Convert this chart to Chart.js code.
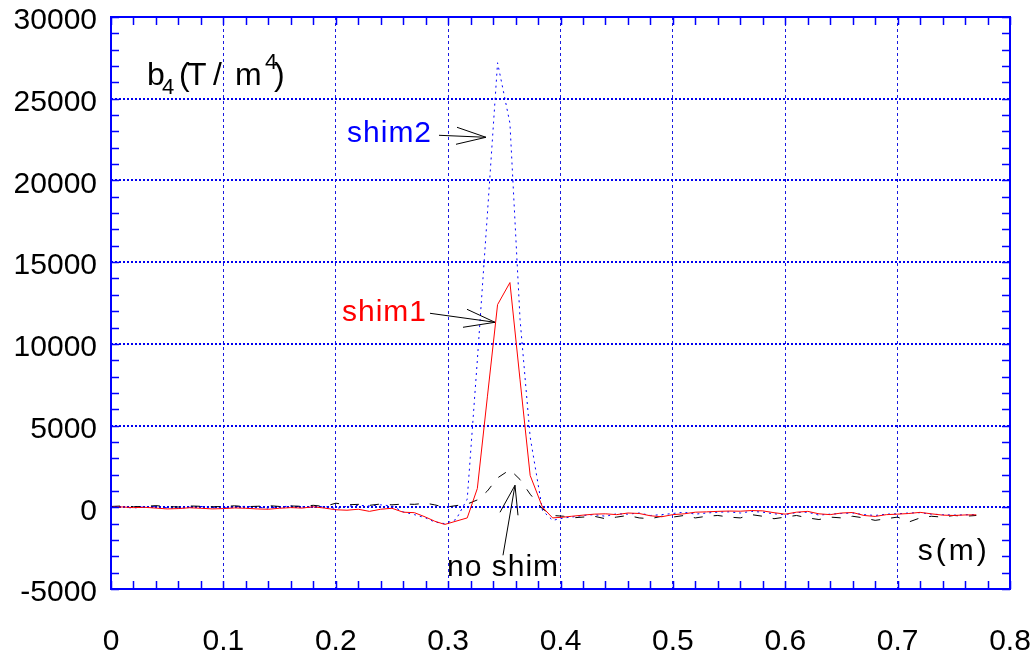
<!DOCTYPE html>
<html>
<head>
<meta charset="utf-8">
<script src="https://cdn.jsdelivr.net/npm/chart.js@4.4.0/dist/chart.umd.min.js"></script>
<style>
  html, body { margin: 0; background: #fff; }
  #wrap { width: 1036px; height: 655px; }
</style>
</head>
<body>
<div id="wrap"><canvas id="c" width="1036" height="655"></canvas></div>
<script>
// s positions (m)
const sPos = [
  0, 0.01, 0.02, 0.03, 0.04, 0.05, 0.06, 0.07, 0.08, 0.09,
  0.10, 0.11, 0.12, 0.13, 0.14, 0.15, 0.16, 0.17, 0.18, 0.19,
  0.20, 0.21, 0.22, 0.23, 0.24, 0.25, 0.26, 0.27, 0.28,
  0.288, 0.297, 0.307, 0.317, 0.326, 0.335, 0.344, 0.355, 0.364, 0.373, 0.384, 0.393, 0.403,
  0.41, 0.42, 0.43, 0.44, 0.45, 0.46, 0.47, 0.48, 0.49, 0.50,
  0.51, 0.52, 0.53, 0.54, 0.55, 0.56, 0.57, 0.58, 0.59, 0.60,
  0.61, 0.62, 0.63, 0.64, 0.65, 0.66, 0.67, 0.68, 0.69, 0.70,
  0.71, 0.72, 0.73, 0.74, 0.75, 0.76, 0.77
];

// b4 (T/m^4)
const shim1 = [
  0, 20, -20, 0, -50, -100, -80, -30, -60, -100,
  -80, -40, -60, -100, -120, -60, -20, -50, 30, -50,
  -150, -180, -120, -250, -120, -60, -300, -330, -600,
  -850, -1050, -850, -650, 1150, 6800, 12400, 13750, 7800, 1950, 0, -650, -600,
  -550, -480, -420, -400, -450, -350, -380, -520, -580, -450,
  -400, -300, -280, -250, -230, -240, -200, -220, -330, -420,
  -300, -250, -400, -450, -350, -320, -500, -560, -450, -420,
  -380, -310, -400, -480, -500, -470, -460
];
const shim2 = [
  30, 0, -40, 20, 40, -30, -60, 0, 50, -20,
  -40, 30, 60, 0, -50, 20, 80, 30, -20, 50,
  -80, 60, 120, 80, 150, 80, -280, -450, -650,
  -900, -1000, -750, 500, 9000, 18000, 27200, 23500, 11500, 4300, -200, -800, -650,
  -600, -500, -450, -550, -400, -420, -350, -500, -450, -380,
  -300, -420, -350, -300, -280, -350, -250, -300, -400, -450,
  -320, -300, -480, -420, -380, -350, -450, -500, -420, -400,
  -350, -330, -420, -450, -480, -460, -450
];
const noShim = [
  50, 80, 30, 60, 100, 40, 20, 80, 60, 30,
  50, 90, 40, 60, 100, 50, 80, 60, 120, 50,
  250, 150, 180, 120, 200, 150, 200, 180, 250,
  150, 0, 100, 200, 450, 1000, 1800, 2300, 1700, 800, -100, -500, -550,
  -650, -600, -550, -700, -600, -500, -650, -700, -550, -600,
  -500, -650, -550, -500, -600, -650, -450, -550, -700, -600,
  -500, -650, -750, -600, -650, -550, -650, -800, -700, -600,
  -900, -650, -550, -600, -500, -550, -500
];

const xTicks = [0, 0.1, 0.2, 0.3, 0.4, 0.5, 0.6, 0.7, 0.8];
const yTicks = [-5000, 0, 5000, 10000, 15000, 20000, 25000, 30000];

const FONT = '"Liberation Sans", Arial, sans-serif';
Chart.defaults.font.family = FONT;
Chart.defaults.font.size = 30;
Chart.defaults.color = '#000';

const pts = arr => sPos.map((s, i) => ({ x: s, y: arr[i] }));

function arrow(ctx, tx, ty, tail, h1, h2) {
  ctx.beginPath();
  ctx.moveTo(tx + tail[0], ty + tail[1]);
  ctx.lineTo(tx, ty);
  ctx.moveTo(tx + h1[0], ty + h1[1]);
  ctx.lineTo(tx, ty);
  ctx.lineTo(tx + h2[0], ty + h2[1]);
  ctx.stroke();
}

const decor = {
  id: 'decor',
  afterDraw(chart) {
    const { ctx, chartArea: a, scales: { x, y } } = chart;
    ctx.save();
    // frame + minor ticks
    ctx.strokeStyle = '#0000ff';
    ctx.lineWidth = 2;
    ctx.strokeRect(a.left, a.top, a.right - a.left, a.bottom - a.top);
    ctx.lineWidth = 1.5;
    ctx.beginPath();
    for (let v = -5000; v <= 30000; v += 1000) {
      const py = Math.round(y.getPixelForValue(v)) + 0.5;
      ctx.moveTo(a.left, py); ctx.lineTo(a.left + 8, py);
      ctx.moveTo(a.right, py); ctx.lineTo(a.right - 8, py);
    }
    for (let i = 0; i <= 40; i++) {
      const px = Math.round(x.getPixelForValue(i * 0.02)) + 0.5;
      ctx.moveTo(px, a.bottom); ctx.lineTo(px, a.bottom - 8);
      ctx.moveTo(px, a.top); ctx.lineTo(px, a.top + 8);
    }
    ctx.stroke();

    // axis captions
    ctx.fillStyle = '#000';
    ctx.textBaseline = 'alphabetic';
    ctx.textAlign = 'left';
    const big = '32px ' + FONT, small = '22px ' + FONT;
    const L = a.left, T = a.top;
    ctx.font = big;   ctx.fillText('b', L + 36, T + 68);
    ctx.font = small; ctx.fillText('4', L + 51, T + 77);
    ctx.font = big;   ctx.fillText('(', L + 68, T + 68);
    ctx.fillText('T', L + 76, T + 68);
    ctx.fillText('/', L + 102, T + 68);
    ctx.fillText('m', L + 124, T + 68);
    ctx.font = small; ctx.fillText('4', L + 154, T + 52);
    ctx.font = big;   ctx.fillText(')', L + 163, T + 68);

    ctx.font = '30px ' + FONT;
    ctx.textBaseline = 'middle';
    ctx.letterSpacing = '3px';
    ctx.fillText('s(m)', x.getPixelForValue(0.718), y.getPixelForValue(-2750));

    // series labels
    ctx.letterSpacing = '1px';
    ctx.textAlign = 'right';
    ctx.fillStyle = '#0000ff';
    ctx.fillText('shim2', x.getPixelForValue(0.2857), y.getPixelForValue(22830));
    ctx.fillStyle = '#ff0000';
    ctx.fillText('shim1', x.getPixelForValue(0.2812), y.getPixelForValue(11930));
    ctx.fillStyle = '#000';
    ctx.textAlign = 'left';
    ctx.fillText('no shim', x.getPixelForValue(0.299), y.getPixelForValue(-3670));

    // arrows
    ctx.strokeStyle = '#000';
    ctx.lineWidth = 1;
    arrow(ctx, x.getPixelForValue(0.3337), y.getPixelForValue(22640), [-47, -2], [-29, -10], [-30, 7]);
    arrow(ctx, x.getPixelForValue(0.3417), y.getPixelForValue(11320), [-65, -9], [-28, -13], [-32, 5]);
    arrow(ctx, x.getPixelForValue(0.3595), y.getPixelForValue(1346), [-12, 70], [-15, 27], [3, 30]);
    ctx.restore();
  }
};

new Chart(document.getElementById('c'), {
  type: 'line',
  data: {
    datasets: [
      { label: 'shim1', data: pts(shim1), borderColor: '#ff0000', borderWidth: 1 },
      { label: 'no shim', data: pts(noShim), borderColor: '#000000', borderWidth: 1, borderDash: [9, 11] },
      { label: 'shim2', data: pts(shim2), borderColor: '#0000ff', borderWidth: 1, borderDash: [2, 4] }
    ]
  },
  options: {
    responsive: false,
    animation: false,
    devicePixelRatio: 1,
    layout: { padding: { left: 0, top: 17, right: 26, bottom: 0 } },
    elements: { point: { radius: 0 }, line: { tension: 0 } },
    plugins: { legend: { display: false }, tooltip: { enabled: false } },
    scales: {
      x: {
        type: 'linear',
        min: 0, max: 0.8,
        afterBuildTicks: s => { s.ticks = xTicks.map(v => ({ value: v })); },
        afterFit: s => { s.height = 66; s.paddingLeft = 0; s.paddingRight = 0; },
        ticks: { padding: 35, maxRotation: 0, autoSkip: false, callback: v => String(+v.toFixed(1)) },
        grid: { color: '#1a1ae0', lineWidth: 1, drawTicks: false },
        border: { display: false, dash: [3, 3] }
      },
      y: {
        min: -5000, max: 30000,
        afterBuildTicks: s => { s.ticks = yTicks.map(v => ({ value: v })); },
        afterFit: s => { s.width = 111; s.paddingTop = 0; s.paddingBottom = 0; },
        ticks: { padding: 14, labelOffset: 4, callback: v => String(v) },
        grid: { color: '#0000ee', lineWidth: 2, drawTicks: false },
        border: { display: false, dash: [2, 2] }
      }
    }
  },
  plugins: [decor]
});
</script>
</body>
</html>
